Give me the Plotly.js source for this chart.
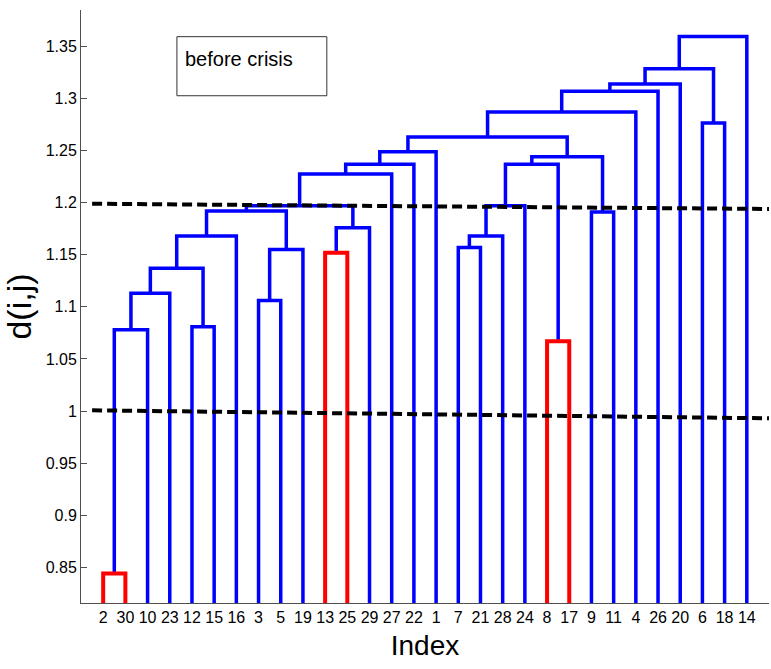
<!DOCTYPE html>
<html><head><meta charset="utf-8">
<script src="https://cdn.plot.ly/plotly-3.0.1.min.js"></script>
<style>html,body{margin:0;padding:0;background:#fff;}#chart{width:771px;height:669px;}</style>
</head><body><div id="chart"></div>
<script>
// Leaf order along the x axis (labels of the leaves)
const leafOrder = [2,30,10,23,12,15,16,3,5,19,13,25,29,27,22,1,7,21,28,24,8,17,9,11,4,26,20,6,18,14];
// Linkage: merge k creates node 30+k (leaves are their own labels 1..30)
const mergeLeft   = [2, 31, 12, 32, 34, 35, 3, 37, 36, 13, 40, 39, 42, 43, 44, 7, 46, 47, 8, 48, 9, 50, 45, 53, 54, 6, 55, 57, 58];
const mergeRight  = [30, 10, 15, 23, 33, 16, 5, 19, 38, 25, 29, 41, 27, 22, 1, 21, 28, 24, 17, 49, 11, 51, 52, 4, 26, 18, 20, 56, 14];
const mergeHeight = [0.844, 1.078, 1.081, 1.113, 1.137, 1.168, 1.106, 1.155, 1.192, 1.152, 1.176, 1.197, 1.2275, 1.237, 1.249,
                     1.157, 1.168, 1.197, 1.067, 1.237, 1.191, 1.244, 1.263, 1.287, 1.307, 1.2765, 1.314, 1.3286, 1.3596];
// merges (1-based) drawn in red
const redMerges = [1, 10, 19];
// dashed cut lines: level at left end and right end
const cutLeft  = [1.199, 1.0007];
const cutRight = [1.194, 0.993];
const cutX = [0.5, 31];
const yTickVals = [0.85, 0.9, 0.95, 1, 1.05, 1.1, 1.15, 1.2, 1.25, 1.3, 1.35];
const yTickText = ["0.85", "0.9", "0.95", "1", "1.05", "1.1", "1.15", "1.2", "1.25", "1.3", "1.35"];
const boxText = "before crisis";

const nLeaves = leafOrder.length;
const pos = {}, hgt = {};
leafOrder.forEach((lab, i) => { pos[lab] = i + 1; hgt[lab] = 0; });
const blue = {x: [], y: []}, red = {x: [], y: []};
mergeHeight.forEach((h, k) => {
  const a = mergeLeft[k], b = mergeRight[k], id = nLeaves + k + 1;
  const xa = pos[a], xb = pos[b];
  const tgt = redMerges.includes(k + 1) ? red : blue;
  tgt.x.push(xa, xa, xb, xb, null);
  tgt.y.push(hgt[a], h, h, hgt[b], null);
  pos[id] = (xa + xb) / 2; hgt[id] = h;
});

const traces = [
  {type: 'scatter', mode: 'lines', x: blue.x, y: blue.y, line: {color: '#0000ff', width: 3.5}, hoverinfo: 'skip'},
  {type: 'scatter', mode: 'lines', x: red.x, y: red.y, line: {color: '#ff0000', width: 4}, hoverinfo: 'skip'}
];
cutLeft.forEach((v, i) => {
  traces.push({type: 'scatter', mode: 'lines', x: cutX, y: [v, cutRight[i]],
    line: {color: '#000000', width: 4, dash: '10px,5px'}, hoverinfo: 'skip'});
});

const fam = '"Liberation Sans", Arial, sans-serif';
const tickFont = {family: fam, size: 16, color: '#000'};
const layout = {
  width: 771, height: 669,
  margin: {l: 81, r: 2, t: 10, b: 66},
  paper_bgcolor: '#fff', plot_bgcolor: '#fff',
  showlegend: false,
  xaxis: {
    range: [0, 31], showgrid: false, zeroline: false,
    showline: true, linecolor: '#505050', linewidth: 1,
    ticks: '', tickmode: 'array', tickangle: 0,
    tickvals: leafOrder.map((_, i) => i + 1), ticktext: leafOrder.map(String),
    tickfont: tickFont,
    title: {text: 'Index', font: {family: fam, size: 28, color: '#000'}, standoff: 10}
  },
  yaxis: {
    range: [0.8157, 1.385], showgrid: false, zeroline: false,
    showline: true, linecolor: '#505050', linewidth: 1,
    ticks: 'inside', ticklen: 6, tickcolor: '#505050',
    tickmode: 'array', tickvals: yTickVals, ticktext: yTickText,
    tickfont: tickFont,
    title: {text: 'd(i,j)', font: {family: fam, size: 34, color: '#000'}, standoff: 4}
  },
  shapes: [{type: 'rect', xref: 'paper', yref: 'paper', x0: 0.1394, x1: 0.3573, y0: 0.8554, y1: 0.9550,
            line: {color: '#333', width: 1}, fillcolor: 'rgba(0,0,0,0)'}],
  annotations: [{xref: 'paper', yref: 'paper', x: 0.1482, y: 0.9173, xanchor: 'left', yanchor: 'middle',
                 showarrow: false, text: boxText,
                 font: {family: fam, size: 20, color: '#000'}}]
};
Plotly.newPlot('chart', traces, layout, {staticPlot: true});
</script>
</body></html>
